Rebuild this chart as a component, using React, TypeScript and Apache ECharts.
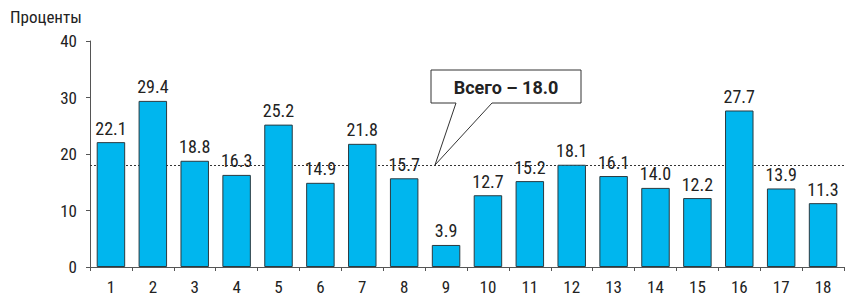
import React, { useEffect, useRef } from "react";
import * as echarts from "echarts";

const categories = ["1","2","3","4","5","6","7","8","9","10","11","12","13","14","15","16","17","18"];
const values = [22.1, 29.4, 18.8, 16.3, 25.2, 14.9, 21.8, 15.7, 3.9, 12.7, 15.2, 18.1, 16.1, 14.0, 12.2, 27.7, 13.9, 11.3];
const totalValue = 18.0;
const totalLabel = "Всего – 18.0";
const yAxisTitle = "Проценты";

export default function App() {
  const ref = useRef<HTMLDivElement>(null);
  useEffect(() => {
    document.body.style.margin = "0";
    const chart = echarts.init(ref.current!, null, { renderer: "svg" });
    const font = "'Liberation Sans Narrow', 'Roboto Condensed', Roboto, sans-serif";
    chart.setOption({
      animation: false,
      textStyle: { fontFamily: font },
      grid: { left: 90, right: 2, top: 41, bottom: 32, containLabel: false },
      xAxis: {
        type: "category",
        data: categories,
        axisLine: { lineStyle: { color: "#555", width: 1 } },
        axisTick: { show: true, length: 4, lineStyle: { color: "#555" } },
        axisLabel: { color: "#222", fontSize: 17, margin: 11, fontFamily: font },
      },
      yAxis: {
        type: "value",
        min: 0,
        max: 40,
        interval: 10,
        splitLine: { show: false },
        axisLine: { show: true, lineStyle: { color: "#555", width: 1 } },
        axisTick: { show: true, length: 4, lineStyle: { color: "#555" } },
        axisLabel: { color: "#222", fontSize: 17, margin: 13, fontFamily: font },
      },
      graphic: [
        {
          type: "text",
          left: 10,
          top: 8,
          style: { text: yAxisTitle, fontSize: 17, fill: "#222", fontFamily: font },
        },
        {
          type: "polygon",
          shape: {
            points: [
              [431, 70], [581, 70], [581, 103], [492, 103], [435, 165], [456, 103], [431, 103],
            ],
          },
          style: { fill: "#fff", stroke: "#333", lineWidth: 1 },
          z: 100,
        },
        {
          type: "text",
          x: 506,
          y: 87,
          style: {
            text: totalLabel,
            fontSize: 18,
            fontWeight: "bold",
            fill: "#222",
            align: "center",
            verticalAlign: "middle",
            fontFamily: "Roboto, 'Liberation Sans', sans-serif",
          },
          z: 101,
        },
      ],
      series: [
        {
          type: "bar",
          data: values,
          barWidth: "68%",
          itemStyle: { color: "#00B6EE", borderColor: "#2a3a40", borderWidth: 1 },
          label: {
            show: true,
            position: "top",
            distance: 5,
            color: "#222",
            fontSize: 18,
            fontFamily: font,
            formatter: (p: any) => Number(p.value).toFixed(1),
          },
          markLine: {
            silent: true,
            symbol: "none",
            label: { show: false },
            lineStyle: { color: "#333", type: [2, 2], width: 1 },
            data: [{ yAxis: totalValue }],
            z: 1,
          },
          z: 2,
        },
      ],
    });
    return () => chart.dispose();
  }, []);
  return <div ref={ref} style={{ width: 846, height: 299 }} />;
}
